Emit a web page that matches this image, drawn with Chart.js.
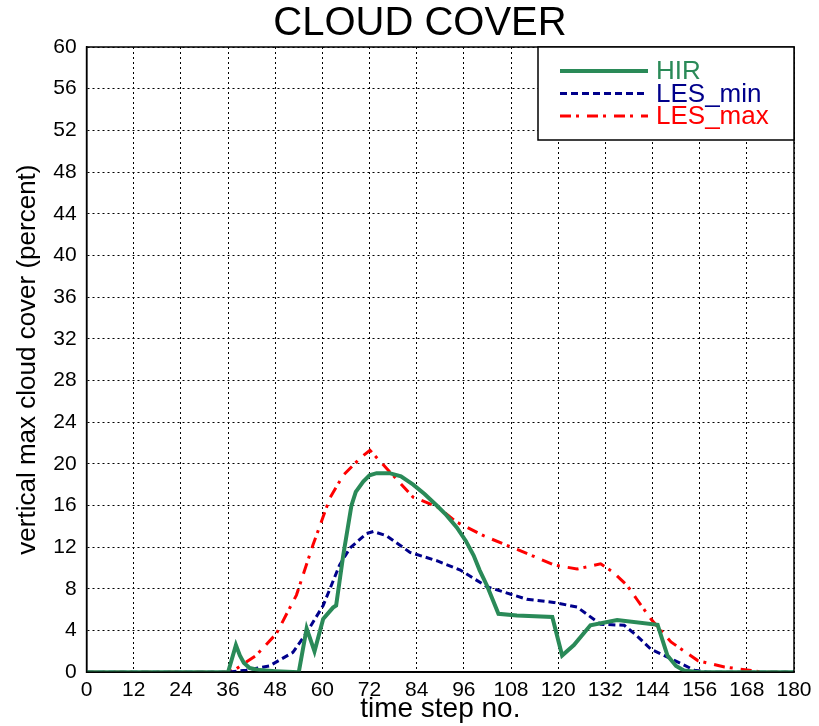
<!DOCTYPE html>
<html>
<head>
<meta charset="utf-8">
<script src="https://cdn.jsdelivr.net/npm/chart.js@4/dist/chart.umd.min.js"></script>
<style>
  body { margin: 0; background: #fff; }
  #wrap { width: 819px; height: 726px; }
</style>
</head>
<body>
<div id="wrap"><canvas id="cloudChart" width="819" height="726"></canvas></div>
<script>
// valores
const hirX = [0, 36, 38, 39, 40, 41.5, 44, 48, 54, 56, 58, 60.2, 62.7, 63.5, 65.3, 67.4, 68.5, 70.4, 72, 73.8, 77.1, 80, 83.1, 86, 89.1, 91.5, 94.2, 96.5, 98.5, 100, 101.9, 103.5, 104.8, 109.5, 118.5, 121, 124, 128.2, 135, 145.3, 147.8, 150, 152, 156, 180];
const hirY = [0, 0, 2.6, 1.6, 0.9, 0.4, 0.2, 0.1, 0, 4.2, 2.0, 5.1, 6.2, 6.4, 11.2, 16.0, 17.3, 18.3, 18.9, 19.1, 19.1, 18.8, 18.0, 17.1, 16.0, 15.1, 13.9, 12.6, 11.2, 9.8, 8.3, 6.8, 5.6, 5.45, 5.3, 1.6, 2.6, 4.5, 5.0, 4.55, 1.6, 0.6, 0.16, 0, 0];

const minX = [0, 36, 40.6, 46.5, 52.5, 56, 60.2, 64.4, 67, 71.2, 73, 76.3, 82.3, 89.1, 95.1, 101.9, 106.1, 112, 118.9, 124.8, 130.8, 136.8, 140, 143.6, 148.7, 154.6, 158, 180];
const minY = [0, 0, 0.2, 0.6, 1.9, 3.8, 6.4, 10.3, 11.9, 13.3, 13.5, 13.1, 11.5, 10.7, 9.8, 8.2, 7.7, 7.0, 6.7, 6.25, 4.6, 4.5, 3.5, 2.2, 1.3, 0.2, 0, 0];

const maxX = [0, 36, 38, 43.1, 48.3, 53.4, 57.6, 61.9, 65.3, 69.5, 72.1, 75.5, 83.1, 89.1, 94.2, 101, 106.1, 112, 118.9, 124.8, 130.8, 134, 137.6, 140, 143.6, 148.7, 155.6, 162.3, 169.1, 172, 180];
const maxY = [0, 0, 0.3, 1.6, 3.7, 7.4, 12.2, 16.7, 18.9, 20.5, 21.3, 19.9, 16.8, 15.9, 14.4, 13.1, 12.3, 11.4, 10.3, 9.9, 10.4, 9.6, 8.3, 7.0, 5.1, 2.9, 1.1, 0.5, 0.16, 0, 0];

const seriesNames = ['HIR', 'LES_min', 'LES_max'];
const xTicks = [0, 12, 24, 36, 48, 60, 72, 84, 96, 108, 120, 132, 144, 156, 168, 180];
const yTicks = [0, 4, 8, 12, 16, 20, 24, 28, 32, 36, 40, 44, 48, 52, 56, 60];

const toPts = (xs, ys) => xs.map((x, i) => ({ x: x, y: ys[i] }));
const fuente = '"Liberation Sans", Arial, sans-serif';

// titulo, marco y leyenda dentro del area del grafico
const boxPlugin = {
  id: 'boxPlugin',
  afterDraw(chart) {
    const ctx = chart.ctx;
    const a = chart.chartArea;
    ctx.save();
    ctx.fillStyle = '#000';
    ctx.font = '40px ' + fuente;
    ctx.textAlign = 'center';
    ctx.textBaseline = 'middle';
    ctx.fillText('CLOUD COVER', 420, 24);

    ctx.strokeStyle = '#000';
    ctx.lineWidth = 1.5;
    ctx.strokeRect(a.left, a.top, a.right - a.left, a.bottom - a.top);

    // caja de la leyenda
    const bw = 256, bh = 93;
    const bx = a.right - bw, by = a.top;
    ctx.fillStyle = '#fff';
    ctx.fillRect(bx, by, bw, bh);
    ctx.strokeRect(bx, by, bw, bh);
    ctx.font = '26px ' + fuente;
    ctx.textAlign = 'left';
    chart.data.datasets.forEach((ds, i) => {
      const yy = by + 24 + i * 22.5;
      ctx.beginPath();
      ctx.strokeStyle = ds.borderColor;
      ctx.lineWidth = ds.borderWidth;
      ctx.setLineDash(ds.borderDash || []);
      ctx.moveTo(bx + 22, yy);
      ctx.lineTo(bx + 110, yy);
      ctx.stroke();
      ctx.setLineDash([]);
      ctx.fillStyle = ds.borderColor;
      ctx.fillText(ds.label, bx + 118, yy + 1);
    });
    ctx.restore();
  }
};

const ctx = document.getElementById('cloudChart').getContext('2d');
new Chart(ctx, {
  type: 'line',
  data: {
    datasets: [{
      label: seriesNames[0],
      data: toPts(hirX, hirY),
      borderColor: '#2a8a58',
      borderWidth: 4,
      pointRadius: 0,
      tension: 0
    }, {
      label: seriesNames[1],
      data: toPts(minX, minY),
      borderColor: '#00008b',
      borderWidth: 3,
      borderDash: [7, 4],
      pointRadius: 0,
      tension: 0
    }, {
      label: seriesNames[2],
      data: toPts(maxX, maxY),
      borderColor: '#ff0000',
      borderWidth: 3,
      borderDash: [11, 5, 3, 8],
      pointRadius: 0,
      tension: 0
    }]
  },
  options: {
    responsive: false,
    animation: false,
    layout: { padding: { top: 47, right: 25, bottom: 0, left: 12 } },
    plugins: {
      legend: { display: false },
      tooltip: { enabled: false },
      title: { display: false }
    },
    scales: {
      x: {
        type: 'linear',
        min: 0,
        max: 180,
        afterBuildTicks: (s) => { s.ticks = xTicks.map(v => ({ value: v })); },
        ticks: { color: '#000', font: { family: fuente, size: 21 }, padding: 5, maxRotation: 0, autoSkip: false },
        grid: { color: '#000', lineWidth: 1, drawTicks: false },
        border: { display: true, color: '#000', width: 1.5, dash: [2, 3] },
        title: { display: true, text: 'time step no.', color: '#000', font: { family: fuente, size: 28 }, padding: { top: -15, bottom: 0 } }
      },
      y: {
        min: 0,
        max: 60,
        afterBuildTicks: (s) => { s.ticks = yTicks.map(v => ({ value: v })); },
        ticks: { color: '#000', font: { family: fuente, size: 21 }, padding: 10, autoSkip: false },
        grid: { color: '#000', lineWidth: 1, drawTicks: false },
        border: { display: true, color: '#000', width: 1.5, dash: [2, 3] },
        title: { display: true, text: 'vertical max cloud cover (percent)', color: '#000', font: { family: fuente, size: 26 }, padding: { top: 0, bottom: 0 } }
      }
    }
  },
  plugins: [boxPlugin]
});
</script>
</body>
</html>
